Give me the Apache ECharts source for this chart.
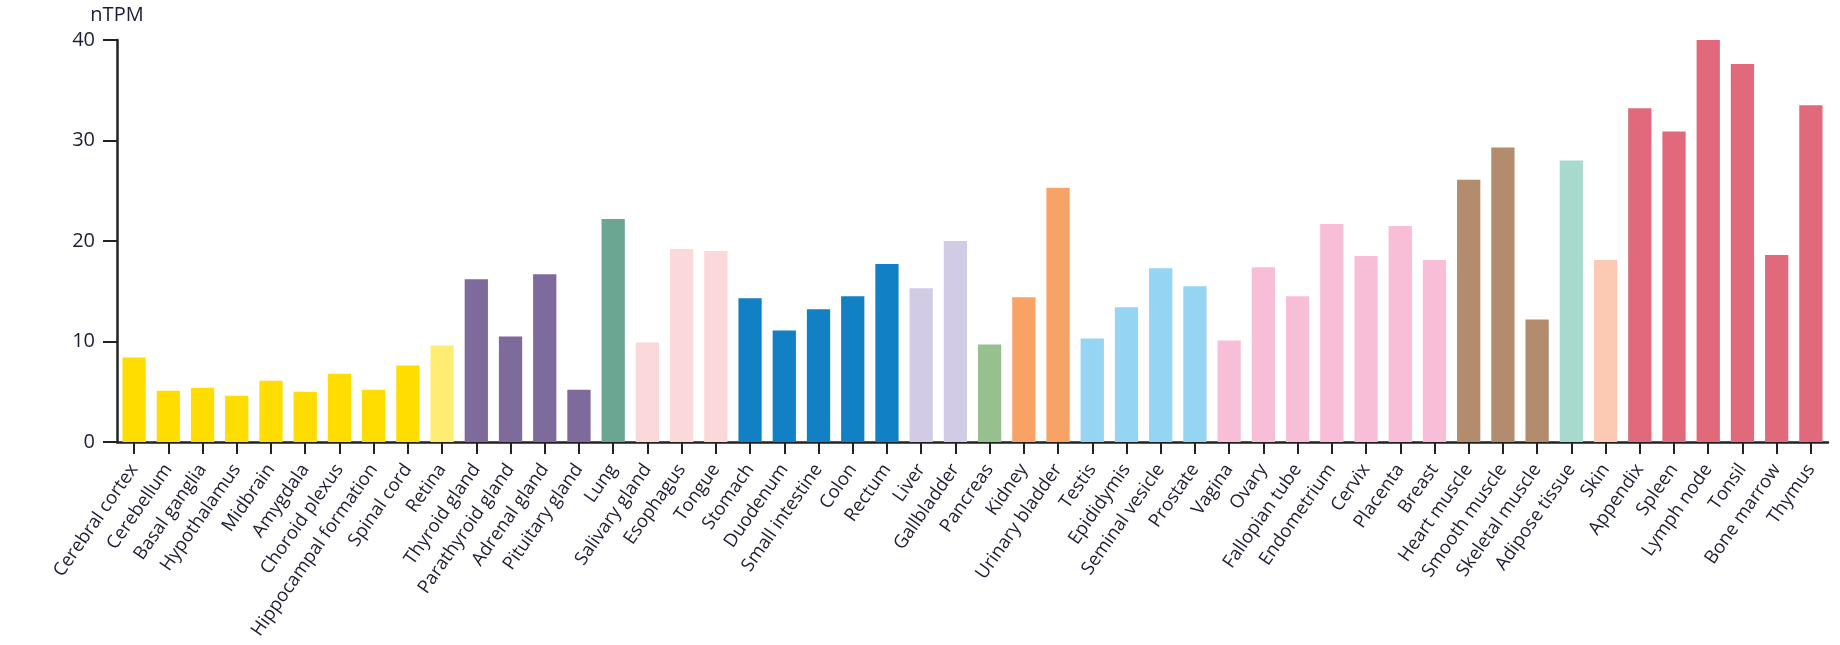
<!DOCTYPE html>
<html>
<head>
<meta charset="utf-8">
<script src="https://cdn.jsdelivr.net/npm/echarts@6/dist/echarts.min.js"></script>
<style>
html,body{margin:0;padding:0;background:#fff;}
#chart{width:1840px;height:645px;}
</style>
</head>
<body>
<div id="chart"></div>
<script>
const categories = ["Cerebral cortex","Cerebellum","Basal ganglia","Hypothalamus","Midbrain","Amygdala","Choroid plexus","Hippocampal formation","Spinal cord","Retina","Thyroid gland","Parathyroid gland","Adrenal gland","Pituitary gland","Lung","Salivary gland","Esophagus","Tongue","Stomach","Duodenum","Small intestine","Colon","Rectum","Liver","Gallbladder","Pancreas","Kidney","Urinary bladder","Testis","Epididymis","Seminal vesicle","Prostate","Vagina","Ovary","Fallopian tube","Endometrium","Cervix","Placenta","Breast","Heart muscle","Smooth muscle","Skeletal muscle","Adipose tissue","Skin","Appendix","Spleen","Lymph node","Tonsil","Bone marrow","Thymus"];

const values = [8.4,5.1,5.4,4.6,6.1,5.0,6.8,5.2,7.6,9.6,16.2,10.5,16.7,5.2,22.2,9.9,19.2,19.0,14.3,11.1,13.2,14.5,17.7,15.3,20.0,9.7,14.4,25.3,10.3,13.4,17.3,15.5,10.1,17.4,14.5,21.7,18.5,21.5,18.1,26.1,29.3,12.2,28.0,18.1,33.2,30.9,40.0,37.6,18.6,33.5];

const groups = ["brain","brain","brain","brain","brain","brain","brain","brain","brain","eye","endocrine","endocrine","endocrine","endocrine","lung","proximal","proximal","proximal","gi","gi","gi","gi","gi","liver","liver","pancreas","kidney","kidney","male","male","male","male","female","female","female","female","female","female","female","muscle","muscle","muscle","adipose","skin","blood","blood","blood","blood","blood","blood"];

const groupColors = {
  brain:"#FFDD00", eye:"#FFEC73", endocrine:"#7F6A9C", lung:"#6AA692",
  proximal:"#FBD9DB", gi:"#1280C4", liver:"#D1CBE5", pancreas:"#96C08E",
  kidney:"#F9A266", male:"#95D4F3", female:"#F8BDD7", muscle:"#B38B6D",
  adipose:"#A7DACD", skin:"#FCCAB3", blood:"#E1697C"
};

const yTicks = [0,10,20,30,40];

const chart = echarts.init(document.getElementById('chart'), null, {renderer:'canvas'});
const FONT = '"Open Sans", sans-serif';
const TXT = '#1d1d35';

chart.setOption({
  animation:false,
  grid:{left:117, right:12, top:40, bottom:203, containLabel:false},
  xAxis:{
    type:'category',
    data:categories,
    boundaryGap:true,
    axisLine:{show:true, lineStyle:{color:'#222', width:2.5}},
    axisTick:{show:true, alignWithLabel:true, length:12, lineStyle:{color:'#222', width:2}},
    axisLabel:{interval:0, rotate:55, fontSize:18.5, fontFamily:FONT, color:TXT, margin:24}
  },
  yAxis:{
    type:'value',
    min:yTicks[0], max:yTicks[yTicks.length-1], interval:10,
    name:'nTPM',
    nameLocation:'end',
    nameGap:15,
    nameTextStyle:{fontSize:20, fontFamily:FONT, color:TXT},
    axisLine:{show:true, lineStyle:{color:'#222', width:2.5}},
    axisTick:{show:true, length:14, lineStyle:{color:'#222', width:2}},
    axisLabel:{fontSize:20, fontFamily:FONT, color:TXT, margin:22},
    splitLine:{show:false}
  },
  series:[{
    type:'bar',
    barCategoryGap:'32%',
    data:values.map((v,i)=>({value:v, itemStyle:{color:groupColors[groups[i]]}}))
  }]
});
</script>
</body>
</html>
